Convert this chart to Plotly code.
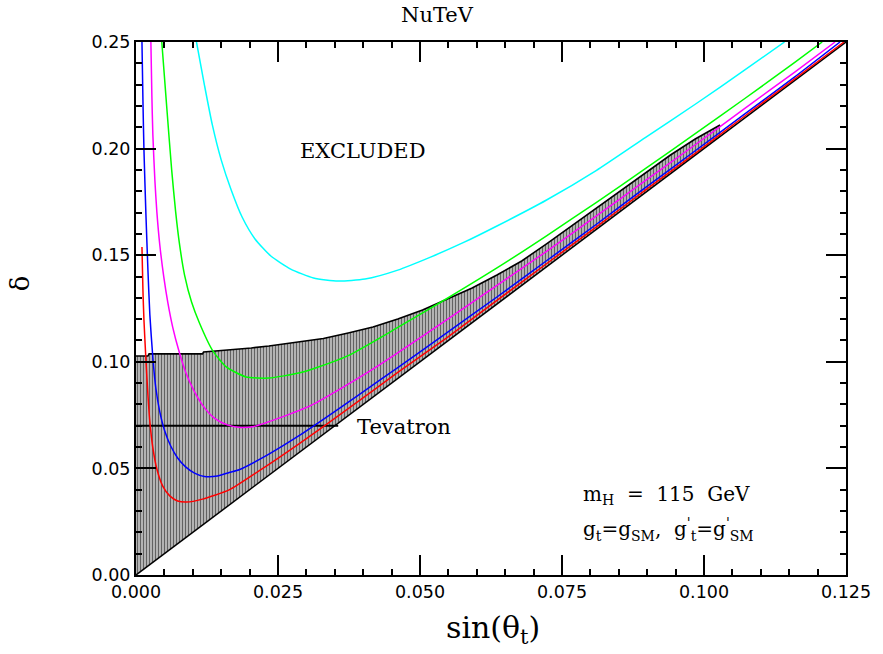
import numpy as np
import plotly.graph_objects as go

# --- curves: sin(theta_t) vs delta -------------------------------------
red_s = [0.00105, 0.00122, 0.0014, 0.00175, 0.0021, 0.00244, 0.00297, 0.00367,
         0.00471, 0.00594, 0.00733, 0.0089, 0.0117, 0.0164, 0.02165, 0.02863,
         0.03736, 0.04609, 0.05482, 0.06355, 0.07228, 0.08101, 0.08973, 0.09846,
         0.10719, 0.11592, 0.12465]
red_d = [0.1538, 0.1337, 0.1196, 0.1008, 0.0844, 0.0718, 0.0596, 0.0497,
         0.0417, 0.0371, 0.0347, 0.0342, 0.0356, 0.0399, 0.0488, 0.0614,
         0.0780, 0.0950, 0.1115, 0.1288, 0.1460, 0.1632, 0.1806, 0.1978,
         0.2153, 0.2326, 0.2500]

blue_s = [0.00105, 0.00122, 0.0014, 0.00175, 0.0021, 0.00244, 0.00297, 0.00349,
          0.00419, 0.00506, 0.00611, 0.00733, 0.00873, 0.0103, 0.01205, 0.01432,
          0.01641, 0.01816, 0.0234, 0.02863, 0.03561, 0.0426, 0.04609, 0.05482,
          0.06355, 0.07228, 0.08101, 0.08973, 0.09846, 0.10719, 0.11592, 0.12395]
blue_d = [0.2500, 0.2228, 0.1993, 0.1689, 0.1431, 0.1220, 0.1018, 0.0877,
          0.0765, 0.0675, 0.0605, 0.0549, 0.0507, 0.0478, 0.0462, 0.0464,
          0.0481, 0.0494, 0.0567, 0.0652, 0.0778, 0.0908, 0.0973, 0.1138,
          0.1304, 0.1474, 0.1644, 0.1818, 0.1990, 0.2163, 0.2335, 0.2500]

magenta_s = [0.00262, 0.00279, 0.00297, 0.00332, 0.00367, 0.00419, 0.00489, 0.00559,
             0.00646, 0.00751, 0.00873, 0.01013, 0.0117, 0.01379, 0.01606, 0.0185,
             0.02078, 0.02514, 0.0309, 0.03684, 0.0426, 0.05482, 0.06355, 0.07228,
             0.08101, 0.08973, 0.09846, 0.10719, 0.11592, 0.12308]
magenta_d = [0.2500, 0.2251, 0.2064, 0.1853, 0.1703, 0.1548, 0.1398, 0.1280,
             0.1163, 0.1055, 0.0952, 0.0868, 0.0797, 0.0736, 0.0704, 0.0692,
             0.0697, 0.0736, 0.0797, 0.0887, 0.0981, 0.1199, 0.1358, 0.1518,
             0.1683, 0.1851, 0.2018, 0.2189, 0.2358, 0.2500]

green_s = [0.00454, 0.00541, 0.00628, 0.00698, 0.00768, 0.00855, 0.00978, 0.01117,
           0.01344, 0.01589, 0.01938, 0.0234, 0.02863, 0.0316, 0.03736, 0.04609,
           0.05482, 0.06355, 0.07228, 0.08101, 0.08973, 0.09846, 0.10719, 0.11592,
           0.12081]
green_d = [0.2500, 0.2195, 0.1900, 0.1703, 0.1548, 0.1407, 0.1280, 0.1182,
           0.1055, 0.0976, 0.0929, 0.0924, 0.0947, 0.0971, 0.1029, 0.1161,
           0.1298, 0.1440, 0.1591, 0.1747, 0.1907, 0.2070, 0.2235, 0.2403,
           0.2500]

cyan_s = [0.01065, 0.01205, 0.01344, 0.01501, 0.01676, 0.01868, 0.02095, 0.02374,
          0.02723, 0.03125, 0.03561, 0.04033, 0.04609, 0.05185, 0.05779, 0.06355,
          0.07228, 0.08101, 0.08973, 0.09846, 0.10719, 0.11418]
cyan_d = [0.2500, 0.2298, 0.2111, 0.1946, 0.1806, 0.1679, 0.1576, 0.1496,
          0.1435, 0.1393, 0.1379, 0.1388, 0.1430, 0.1491, 0.1561, 0.1637,
          0.1759, 0.1897, 0.2053, 0.2208, 0.2369, 0.2500]

# --- allowed (hatched) band: upper edge, lower edge is the diagonal ------
hatch_top_s = [0.0, 0.0021, 0.0023, 0.0117, 0.0119, 0.0164, 0.0203, 0.0234,
               0.02863, 0.03299, 0.03736, 0.04172, 0.04609, 0.05045, 0.05482,
               0.05918, 0.06355, 0.06791, 0.07228, 0.07664, 0.08101, 0.08537,
               0.08973, 0.0941, 0.09846, 0.1016, 0.10283]
hatch_top_d = [0.1027, 0.1027, 0.1037, 0.1037, 0.1046, 0.1055, 0.1065, 0.1074,
               0.1093, 0.1109, 0.1135, 0.1163, 0.1201, 0.1243, 0.1295,
               0.1346, 0.1407, 0.1473, 0.1553, 0.1637, 0.1721, 0.1806,
               0.1890, 0.1970, 0.2045, 0.2092, 0.2111]

diag_s = [0.0, 0.125]
diag_d = [0.0, 0.25]

tev_s = [0.0, 0.0356]
tev_d = [0.07, 0.07]

x_ticks = [0.0, 0.025, 0.05, 0.075, 0.1, 0.125]
y_ticks = [0.0, 0.05, 0.10, 0.15, 0.20, 0.25]

SERIF = "DejaVu Serif"

fig = go.Figure()

# hatched region polygon (vertical hatching)
end_s = hatch_top_s[-1]
end_d = float(np.interp(end_s, diag_s, diag_d))
poly_s = hatch_top_s + [end_s, diag_s[0]]
poly_d = hatch_top_d + [end_d, diag_d[0]]
fig.add_trace(go.Scatter(
    x=poly_s, y=poly_d, mode="lines", fill="toself",
    line=dict(color="black", width=0),
    fillcolor="rgba(0,0,0,0)",
    fillpattern=dict(shape="|", size=3, solidity=0.45,
                     fgcolor="black", bgcolor="rgb(196,196,196)"),
    hoverinfo="skip", showlegend=False))

# stepped upper edge of the hatching
fig.add_trace(go.Scatter(x=hatch_top_s, y=hatch_top_d, mode="lines",
                         line=dict(color="black", width=1.6), hoverinfo="skip",
                         showlegend=False))

# diagonal boundary
fig.add_trace(go.Scatter(x=diag_s, y=diag_d, mode="lines",
                         line=dict(color="black", width=1.5), showlegend=False))

# Tevatron bound
fig.add_trace(go.Scatter(x=tev_s, y=tev_d, mode="lines",
                         line=dict(color="black", width=2.2), showlegend=False))

for s, d, c in [(cyan_s, cyan_d, "#00ffff"), (green_s, green_d, "#00ff00"),
                (magenta_s, magenta_d, "#ff00ff"), (blue_s, blue_d, "#0000ff"),
                (red_s, red_d, "#ff0000")]:
    fig.add_trace(go.Scatter(x=s, y=d, mode="lines",
                             line=dict(color=c, width=1.5, shape="spline", smoothing=0.6),
                             showlegend=False))

axis_common = dict(
    showline=True, linecolor="black", linewidth=2, mirror="allticks",
    ticks="inside", ticklen=20, tickwidth=1.5, tickcolor="black",
    showgrid=False, zeroline=False,
    tickfont=dict(family="DejaVu Sans", size=17.5, color="black"),
)

fig.update_xaxes(range=[0, 0.125], tickvals=x_ticks, tickformat=".3f",
                 minor=dict(dtick=0.005, ticklen=6, ticks="inside", tickwidth=1.5,
                            tickcolor="black", showgrid=False),
                 **axis_common)
fig.update_yaxes(range=[0, 0.25], tickvals=y_ticks, tickformat=".2f",
                 minor=dict(dtick=0.01, ticklen=6, ticks="inside", tickwidth=1.5,
                            tickcolor="black", showgrid=False),
                 **axis_common)

annotations = [
    dict(text="NuTeV", xref="paper", yref="paper", x=0.4246, y=1.0507,
         font=dict(family=SERIF, size=21, color="black")),
    dict(text="EXCLUDED", x=0.0398, y=0.199,
         font=dict(family=SERIF, size=21, color="black")),
    dict(text="Tevatron", x=0.0386, y=0.0695, xanchor="left",
         font=dict(family=SERIF, size=21, color="black")),
    dict(text="m<sub>H</sub>  =  115  GeV", x=0.0784, y=0.0375, xanchor="left",
         font=dict(family=SERIF, size=20, color="black")),
    dict(text="g<sub>t</sub>=g<sub>SM</sub>,  g<sup>'</sup><sub>t</sub>=g<sup>'</sup><sub>SM</sub>",
         x=0.0784, y=0.0215, xanchor="left",
         font=dict(family=SERIF, size=20, color="black")),
    dict(text="sin(θ<sub>t</sub>)", xref="paper", yref="paper", x=0.503, y=-0.103,
         font=dict(family=SERIF, size=30, color="black")),
    dict(text="δ", xref="paper", yref="paper", x=-0.163, y=0.548, textangle=-90,
         xanchor="center", font=dict(family=SERIF, size=26, color="black")),
]
for a in annotations:
    a["showarrow"] = False
    a["yanchor"] = "middle"
    a.setdefault("xanchor", "center")

fig.update_layout(
    width=883, height=654,
    margin=dict(l=136, r=31, t=42, b=79),
    paper_bgcolor="white", plot_bgcolor="white",
    annotations=annotations,
    showlegend=False,
)

fig.write_html("out.html")
